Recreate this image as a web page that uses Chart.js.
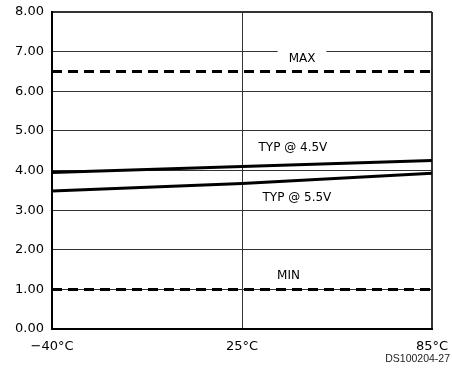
<!DOCTYPE html>
<html>
<head>
<meta charset="utf-8">
<script src="https://cdn.jsdelivr.net/npm/chart.js@4/dist/chart.umd.min.js"></script>
<style>
  html, body { margin: 0; padding: 0; background: #fff; }
  #wrap { width: 452px; height: 369px; }
</style>
</head>
<body>
<div id="wrap"><canvas id="c" width="452" height="369"></canvas></div>
<script>
// Temperature points along the x axis
const tempLabels = ['\u221240\u00B0C', '25\u00B0C', '85\u00B0C'];

// Series values (V) at each temperature
const typ45 = [3.95, 4.10, 4.25];
const typ55 = [3.48, 3.67, 3.93];
const maxLimit = [6.5, 6.5, 6.5];
const minLimit = [1.0, 1.0, 1.0];

// Y axis range and tick step
const yMin = 0;
const yMax = 8;
const yStep = 1;

// Curve captions
const captionText = ['MAX', 'TYP @ 4.5V', 'TYP @ 5.5V', 'MIN'];
const footText = 'DS100204-27';

const tickFont = { family: 'DejaVu Sans', size: 13 };

// Captions placed in data coordinates (category index, value)
const captionPlugin = {
  id: 'captions',
  afterDatasetsDraw(chart) {
    const { ctx, scales } = chart;
    const xs = scales.x, ys = scales.y;
    const spots = [
      { t: captionText[0], xi: 1.316, v: 6.82, bg: true },
      { t: captionText[1], xi: 1.268, v: 4.57 },
      { t: captionText[2], xi: 1.289, v: 3.31 },
      { t: captionText[3], xi: 1.245, v: 1.34 }
    ];
    ctx.save();
    ctx.font = '12px "DejaVu Sans"';
    ctx.textAlign = 'center';
    ctx.textBaseline = 'middle';
    for (const s of spots) {
      const px = xs.getPixelForValue(s.xi);
      const py = ys.getPixelForValue(s.v);
      if (s.bg) {
        const w = ctx.measureText(s.t).width + 22;
        ctx.fillStyle = '#fff';
        ctx.fillRect(px - w / 2, py - 9, w, 17);
      }
      ctx.fillStyle = '#000';
      ctx.fillText(s.t, px, py);
    }
    ctx.font = '10.5px "Liberation Sans"';
    ctx.textAlign = 'right';
    ctx.textBaseline = 'alphabetic';
    ctx.fillStyle = '#222';
    ctx.fillText(footText, chart.width - 2, 362);
    ctx.restore();
  }
};

const lineDs = (data, dash) => ({
  data,
  borderColor: '#000',
  borderWidth: 3,
  borderDash: dash,
  pointRadius: 0,
  tension: 0,
  fill: false
});

new Chart(document.getElementById('c'), {
  type: 'line',
  data: {
    labels: tempLabels,
    datasets: [
      lineDs(maxLimit, [10, 6]),
      lineDs(typ45, []),
      lineDs(typ55, []),
      lineDs(minLimit, [10, 6])
    ]
  },
  options: {
    responsive: false,
    animation: false,
    devicePixelRatio: 1,
    layout: { padding: { top: 12, right: 20, left: 0, bottom: 0 } },
    plugins: { legend: { display: false }, tooltip: { enabled: false } },
    scales: {
      x: {
        type: 'category',
        offset: false,
        afterFit(scale) {
          scale.height = 40;
          scale.paddingLeft = 0;
          scale.paddingRight = 0;
        },
        grid: {
          drawTicks: false,
          color: '#333',
          lineWidth: (c) => (c.index === tempLabels.length - 1 ? 2 : 1)
        },
        border: { display: true, color: '#000', width: 2 },
        ticks: {
          padding: 10,
          color: '#000',
          font: tickFont,
          maxRotation: 0,
          autoSkip: false
        }
      },
      y: {
        min: yMin,
        max: yMax,
        afterFit(scale) {
          scale.width = 52;
          scale.paddingTop = 0;
          scale.paddingBottom = 0;
        },
        grid: {
          drawTicks: false,
          color: '#333',
          lineWidth: (c) => (c.tick && c.tick.value === yMax ? 2 : 1)
        },
        border: { display: true, color: '#000', width: 2 },
        ticks: {
          stepSize: yStep,
          padding: 8,
          color: '#000',
          font: tickFont,
          callback: (v) => Number(v).toFixed(2)
        }
      }
    }
  },
  plugins: [captionPlugin]
});
</script>
</body>
</html>
